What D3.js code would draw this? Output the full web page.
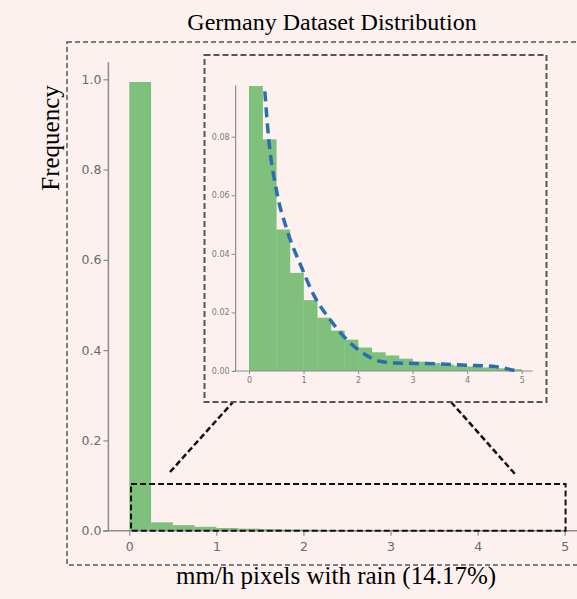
<!DOCTYPE html>
<html>
<head>
<meta charset="utf-8">
<script src="https://cdn.jsdelivr.net/npm/d3@7"></script>
<style>
  body { margin: 0; background: #fcf1ef; }
  svg { display: block; }
  .tick text { font-family: "DejaVu Sans", sans-serif; }
</style>
</head>
<body>
<div id="chart"></div>
<script>
// histogram bins (mm/h), left edges, width 0.25
var binStarts = [0, 0.25, 0.5, 0.75, 1, 1.25, 1.5, 1.75, 2, 2.25, 2.5, 2.75, 3, 3.25, 3.5, 3.75, 4, 4.25, 4.5, 4.75];
var binWidth = 0.25;

// main histogram frequency
var mainFreq = [0.994, 0.0186, 0.0124, 0.0087, 0.006, 0.0045, 0.0034, 0.0026, 0.002, 0.0015,
                0.0012, 0.001, 0.0008, 0.0006, 0.0005, 0.0004, 0.0003, 0.0003, 0.0002, 0.0001];

// zoomed histogram frequency (inset)
var insetFreq = [0.0973, 0.0791, 0.0483, 0.0335, 0.0242, 0.0182, 0.0138, 0.0107, 0.008, 0.0064,
                 0.0053, 0.0042, 0.0032, 0.0027, 0.0022, 0.0018, 0.0015, 0.0012, 0.0009, 0.0006];

// fitted curve (dashed blue)
var fitX = [0.29, 0.36, 0.5, 0.7, 0.95, 1.2, 1.5, 1.8, 2.1, 2.4, 2.7, 3.0, 3.5, 4.0, 4.5, 4.9];
var fitY = [0.0955, 0.0795, 0.062, 0.048, 0.036, 0.0255, 0.0172, 0.0106, 0.006, 0.0033, 0.0027, 0.0026, 0.0024, 0.002, 0.0015, 0.0];

var mainYTicks = [0, 0.2, 0.4, 0.6, 0.8, 1.0];
var mainXTicks = [0, 1, 2, 3, 4, 5];
var insetYTicks = [0, 0.02, 0.04, 0.06, 0.08];
var insetXTicks = [0, 1, 2, 3, 4, 5];

var W = 577, H = 599;
var barColor = "#80c07d", fitColor = "#2b6db3", axisColor = "#8c8c8c";

var svg = d3.select("#chart").append("svg")
    .attr("width", W)
    .attr("height", H);

svg.append("rect").attr("width", W).attr("height", H).attr("fill", "#fcf1ef");

// title
svg.append("text")
    .attr("x", 332).attr("y", 30)
    .attr("text-anchor", "middle")
    .style("font-family", "Liberation Serif, serif")
    .style("font-size", "24px")
    .text("Germany Dataset Distribution");

// outer dashed frame
svg.append("rect")
    .attr("x", 67).attr("y", 42).attr("width", 530).attr("height", 523)
    .attr("fill", "none").attr("stroke", "#555").attr("stroke-width", 1.5)
    .attr("stroke-dasharray", "5,3");

// ---------- main axes ----------
var x = d3.scaleLinear().domain([0, 5]).range([129.3, 564.7]);
var y = d3.scaleLinear().domain([0, 1]).range([530.7, 79.3]);

var main = svg.append("g");

main.selectAll("rect.bar")
    .data(mainFreq)
    .enter().append("rect")
    .attr("class", "bar")
    .attr("x", (d, i) => x(binStarts[i]))
    .attr("width", (d, i) => x(binStarts[i] + binWidth) - x(binStarts[i]))
    .attr("y", d => y(d))
    .attr("height", d => y(0) - y(d))
    .attr("fill", barColor);

// spines
main.append("line")
    .attr("x1", x(-0.24)).attr("x2", x(-0.24))
    .attr("y1", y(1.038)).attr("y2", y(0))
    .attr("stroke", axisColor).attr("stroke-width", 1.5);
main.append("line")
    .attr("x1", x(-0.3)).attr("x2", x(5.4))
    .attr("y1", y(0)).attr("y2", y(0))
    .attr("stroke", axisColor).attr("stroke-width", 1.5);

var yAx = main.append("g")
    .attr("transform", "translate(" + x(-0.24) + ",0)")
    .call(d3.axisLeft(y).tickValues(mainYTicks).tickFormat(d3.format(".1f")).tickSize(5).tickPadding(2));
var xAx = main.append("g")
    .attr("transform", "translate(0," + y(0) + ")")
    .call(d3.axisBottom(x).tickValues(mainXTicks).tickFormat(d3.format("d")).tickSize(5).tickPadding(6));

[yAx, xAx].forEach(function(g) {
    g.select(".domain").remove();
    g.selectAll(".tick line").attr("stroke", axisColor).attr("stroke-width", 1.2);
    g.selectAll(".tick text").attr("fill", "#6a6a6a").style("font-size", "12.5px");
});

// axis labels
svg.append("text")
    .attr("transform", "translate(59,138) rotate(-90)")
    .attr("text-anchor", "middle")
    .style("font-family", "Liberation Serif, serif")
    .style("font-size", "25px")
    .text("Frequency");

svg.append("text")
    .attr("x", 336).attr("y", 584)
    .attr("text-anchor", "middle")
    .style("font-family", "Liberation Serif, serif")
    .style("font-size", "25px")
    .text("mm/h pixels with rain (14.17%)");

// zoom region box + connectors
svg.append("rect")
    .attr("x", x(0.02)).attr("y", 484)
    .attr("width", x(5.01) - x(0.02)).attr("height", y(0) - 484)
    .attr("fill", "none").attr("stroke", "#111").attr("stroke-width", 2)
    .attr("stroke-dasharray", "6,3");

svg.append("line")
    .attr("x1", 170).attr("y1", 472).attr("x2", 233).attr("y2", 402)
    .attr("stroke", "#111").attr("stroke-width", 2.5).attr("stroke-dasharray", "6,3");
svg.append("line")
    .attr("x1", 451).attr("y1", 402).attr("x2", 515).attr("y2", 474)
    .attr("stroke", "#111").attr("stroke-width", 2.5).attr("stroke-dasharray", "6,3");

// ---------- inset ----------
svg.append("rect")
    .attr("x", 204.5).attr("y", 55).attr("width", 342).attr("height", 347)
    .attr("fill", "none").attr("stroke", "#555").attr("stroke-width", 2)
    .attr("stroke-dasharray", "6,3");

var xi = d3.scaleLinear().domain([0, 5]).range([249, 521.7]);
var yi = d3.scaleLinear().domain([0, 0.08]).range([371, 136.7]);

var inset = svg.append("g");

inset.selectAll("rect.bar")
    .data(insetFreq)
    .enter().append("rect")
    .attr("class", "bar")
    .attr("x", (d, i) => xi(binStarts[i]))
    .attr("width", (d, i) => xi(binStarts[i] + binWidth) - xi(binStarts[i]) + 0.3)
    .attr("y", d => yi(d))
    .attr("height", d => yi(0) - yi(d))
    .attr("fill", barColor);

inset.append("line")
    .attr("x1", xi(-0.245)).attr("x2", xi(-0.245))
    .attr("y1", yi(0.0975)).attr("y2", yi(0))
    .attr("stroke", axisColor).attr("stroke-width", 1.2);
inset.append("line")
    .attr("x1", xi(-0.29)).attr("x2", xi(5.2))
    .attr("y1", yi(0)).attr("y2", yi(0))
    .attr("stroke", axisColor).attr("stroke-width", 1.2);

var yiAx = inset.append("g")
    .attr("transform", "translate(" + xi(-0.245) + ",0)")
    .call(d3.axisLeft(yi).tickValues(insetYTicks).tickFormat(d3.format(".2f")).tickSize(4).tickPadding(2));
var xiAx = inset.append("g")
    .attr("transform", "translate(0," + yi(0) + ")")
    .call(d3.axisBottom(xi).tickValues(insetXTicks).tickFormat(d3.format("d")).tickSize(3).tickPadding(3));

[yiAx, xiAx].forEach(function(g) {
    g.select(".domain").remove();
    g.selectAll(".tick line").attr("stroke", axisColor).attr("stroke-width", 1);
    g.selectAll(".tick text").attr("fill", "#7a7a7a").style("font-size", "8px");
});

var fitLine = d3.line()
    .x(d => xi(d[0]))
    .y(d => yi(d[1]))
    .curve(d3.curveMonotoneX);

inset.append("path")
    .datum(fitX.map((v, i) => [v, fitY[i]]))
    .attr("d", fitLine)
    .attr("fill", "none")
    .attr("stroke", fitColor)
    .attr("stroke-width", 3.5)
    .attr("stroke-dasharray", "10,6");
</script>
</body>
</html>
